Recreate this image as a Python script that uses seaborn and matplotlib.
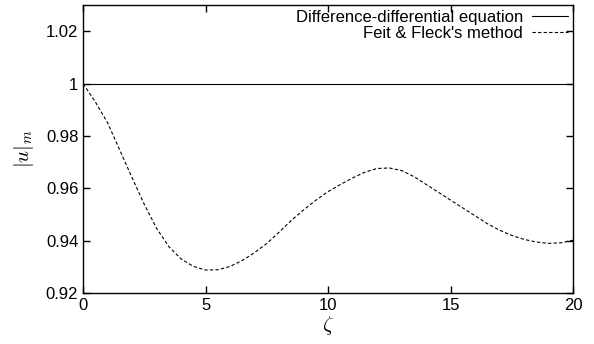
import matplotlib
matplotlib.use("Agg")
import matplotlib.pyplot as plt
import seaborn as sns
import pandas as pd

# values
zeta = [0, 0.5, 1, 1.5, 2, 2.5, 3, 3.5, 4, 4.5, 5, 5.5, 6, 6.5, 7, 7.5, 8, 8.5,
        9, 9.5, 10, 10.5, 11, 11.5, 12, 12.5, 13, 13.5, 14, 14.5, 15, 15.5, 16,
        16.5, 17, 17.5, 18, 18.5, 19, 19.5, 20]
diff_eq = [1.0] * len(zeta)
feit_fleck = [1.000, 0.9930, 0.9850, 0.9745, 0.9640, 0.9538, 0.9447, 0.9377,
              0.9330, 0.9302, 0.9288, 0.9289, 0.9302, 0.9325, 0.9355, 0.9390,
              0.9433, 0.9478, 0.9518, 0.9555, 0.9588, 0.9615, 0.9640, 0.9662,
              0.9676, 0.9678, 0.9668, 0.9645, 0.9615, 0.9585, 0.9555, 0.9525,
              0.9495, 0.9465, 0.9440, 0.9420, 0.9405, 0.9395, 0.9390, 0.9392,
              0.9402]
series_names = ["Difference-differential equation", "Feit & Fleck's method"]
xticks = [0, 5, 10, 15, 20]
yticks = [0.92, 0.94, 0.96, 0.98, 1.0, 1.02]
ytick_labels = ["0.92", "0.94", "0.96", "0.98", "1", "1.02"]

df = pd.DataFrame({
    "zeta": zeta * 2,
    "u": diff_eq + feit_fleck,
    "method": [series_names[0]] * len(zeta) + [series_names[1]] * len(zeta),
})

sns.set_style("ticks")
plt.rcParams["font.family"] = ["Liberation Sans", "DejaVu Sans"]
plt.rcParams["mathtext.fontset"] = "cm"
plt.rcParams["axes.labelcolor"] = "black"
plt.rcParams["text.color"] = "black"

fig, ax = plt.subplots(figsize=(5.94, 3.44), dpi=100)
fig.subplots_adjust(left=0.14, right=0.965, top=0.985, bottom=0.148)

sns.lineplot(data=df, x="zeta", y="u", hue="method", style="method",
             palette=["black", "black"], dashes=[(None, None), (3, 2)],
             linewidth=0.8, ax=ax)

ax.set_xlim(0, 20)
ax.set_ylim(0.92, 1.03)
ax.set_xticks(xticks)
ax.set_xticklabels([str(t) for t in xticks])
ax.set_yticks(yticks)
ax.set_yticklabels(ytick_labels)
ax.tick_params(direction="in", top=True, right=True, length=5, width=1,
               labelsize=12, colors="black")
for s in ax.spines.values():
    s.set_visible(True)
    s.set_linewidth(1)
    s.set_color("black")

ax.set_xlabel(r"$\zeta$", fontsize=15, labelpad=1, color="black")
ax.set_ylabel(r"$|u|_m$", fontsize=15, labelpad=7, color="black")

ax.legend(frameon=False, loc="upper right", markerfirst=False, fontsize=12,
          handlelength=2.2, handletextpad=0.5, labelspacing=0.05,
          borderaxespad=0.1, borderpad=0.2)

fig.savefig("out.png", dpi=100)
